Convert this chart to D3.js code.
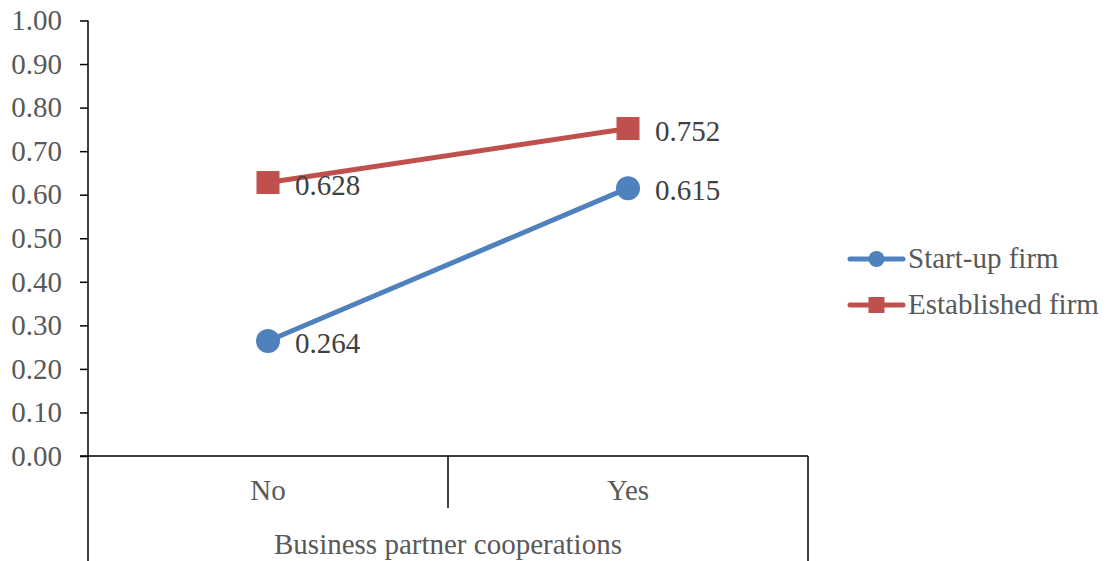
<!DOCTYPE html>
<html>
<head>
<meta charset="utf-8">
<script src="https://cdn.jsdelivr.net/npm/d3@7/dist/d3.min.js"></script>
<style>
  html, body { margin: 0; padding: 0; background: #fff; }
  svg { display: block; font-family: "Liberation Serif", "Times New Roman", serif; }
</style>
</head>
<body>
<svg id="chart" width="1108" height="561"></svg>
<script>
// Categories along the x axis
const categories = ["No", "Yes"];
const axisTitle = "Business partner cooperations";

// Series values
const seriesNames = ["Start-up firm", "Established firm"];
const startupValues = [0.264, 0.615];
const establishedValues = [0.628, 0.752];

// Y tick labels
const yTicks = [0, 0.1, 0.2, 0.3, 0.4, 0.5, 0.6, 0.7, 0.8, 0.9, 1.0];

const series = [
  { name: seriesNames[0], values: startupValues, color: "#4F81BD", marker: "circle" },
  { name: seriesNames[1], values: establishedValues, color: "#C0504D", marker: "square" }
];

const svg = d3.select("#chart");
const plotLeft = 88, plotRight = 808, plotTop = 20.5, plotBottom = 456;
const fontSize = "29px";

const x = d3.scaleBand().domain(categories).range([plotLeft, plotRight]);
const y = d3.scaleLinear().domain([0, 1]).range([plotBottom, plotTop]);

const axisColor = "#000";
const tickTextColor = "#595959";

// Y axis
const yAxis = svg.append("g")
  .attr("transform", `translate(${plotLeft},0)`)
  .call(d3.axisLeft(y).tickValues(yTicks).tickFormat(d3.format(".2f")).tickSize(8).tickPadding(18));
yAxis.select(".domain").attr("stroke", axisColor).attr("stroke-width", 1.5).attr("d", `M0,${y(1)}V${y(0)}`);
yAxis.selectAll(".tick line").attr("stroke", axisColor).attr("stroke-width", 1.5);
yAxis.selectAll(".tick text")
  .attr("fill", tickTextColor)
  .style("font-size", fontSize)
  .style("font-family", "'Liberation Serif', serif");

// X axis baseline
svg.append("line")
  .attr("x1", plotLeft - 8).attr("x2", plotRight)
  .attr("y1", y(0)).attr("y2", y(0))
  .attr("stroke", axisColor).attr("stroke-width", 1.5);

// Category dividers: inner boundaries short, outer boundaries extend under the axis title
const bounds = categories.map(c => x(c)).concat([plotRight]);
bounds.forEach((bx, i) => {
  const outer = i === 0 || i === bounds.length - 1;
  svg.append("line")
    .attr("x1", bx).attr("x2", bx)
    .attr("y1", y(0)).attr("y2", outer ? 561 : 508)
    .attr("stroke", axisColor).attr("stroke-width", 1.5);
});

// Category labels
svg.selectAll(".cat-label")
  .data(categories)
  .join("text")
  .attr("class", "cat-label")
  .attr("x", d => x(d) + x.bandwidth() / 2)
  .attr("y", 500)
  .attr("text-anchor", "middle")
  .attr("fill", tickTextColor)
  .style("font-size", fontSize)
  .text(d => d);

// Axis group title
svg.append("text")
  .attr("x", (plotLeft + plotRight) / 2)
  .attr("y", 554)
  .attr("text-anchor", "middle")
  .attr("fill", tickTextColor)
  .style("font-size", fontSize)
  .text(axisTitle);

const line = d3.line()
  .x((d, i) => x(categories[i]) + x.bandwidth() / 2)
  .y(d => y(d));

function drawMarker(g, type, cx, cy, color) {
  if (type === "circle") {
    g.append("circle").attr("cx", cx).attr("cy", cy).attr("r", 12).attr("fill", color);
  } else {
    g.append("rect").attr("x", cx - 11.5).attr("y", cy - 11.5).attr("width", 23).attr("height", 23).attr("fill", color);
  }
}

// Series lines, markers and value labels
series.forEach(s => {
  const g = svg.append("g");
  g.append("path")
    .datum(s.values)
    .attr("d", line)
    .attr("fill", "none")
    .attr("stroke", s.color)
    .attr("stroke-width", 5)
    .attr("stroke-linecap", "round");
  s.values.forEach((v, i) => {
    const cx = x(categories[i]) + x.bandwidth() / 2;
    drawMarker(g, s.marker, cx, y(v), s.color);
    g.append("text")
      .attr("x", cx + 27)
      .attr("y", y(v) + 12)
      .attr("fill", "#404040")
      .style("font-size", fontSize)
      .text(v.toFixed(3));
  });
});

// Legend
const legend = svg.append("g");
series.forEach((s, i) => {
  const ly = 259 + i * 46;
  legend.append("line")
    .attr("x1", 850).attr("x2", 903)
    .attr("y1", ly).attr("y2", ly)
    .attr("stroke", s.color).attr("stroke-width", 5)
    .attr("stroke-linecap", "round");
  if (s.marker === "circle") {
    legend.append("circle").attr("cx", 876.5).attr("cy", ly).attr("r", 8).attr("fill", s.color);
  } else {
    legend.append("rect").attr("x", 868.5).attr("y", ly - 8).attr("width", 16).attr("height", 16).attr("fill", s.color);
  }
  legend.append("text")
    .attr("x", 908)
    .attr("y", ly + 9)
    .attr("fill", tickTextColor)
    .style("font-size", fontSize)
    .text(s.name);
});
</script>
</body>
</html>
